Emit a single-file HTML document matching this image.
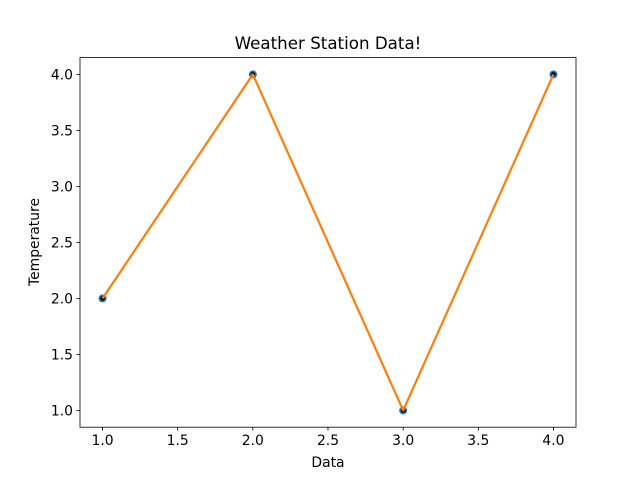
<!DOCTYPE html>
<html><head><meta charset="utf-8"><style>body{margin:0;background:#fff}svg{display:block;font-family:"DejaVu Sans","Liberation Sans",sans-serif}</style></head>
<body>
<svg id="chart" width="640" height="480">
<rect width="640" height="480" fill="#fff"/>
<text x="328" y="49" font-size="16.7" text-anchor="middle">Weather Station Data!</text>
<g id="plot"></g>
<rect x="80" y="57.6" width="496" height="369.6" fill="none" stroke="#000" stroke-width="0.8"/>
<text x="328" y="467" font-size="13.9" text-anchor="middle">Data</text>
<text x="0" y="0" font-size="13.9" text-anchor="middle" transform="translate(39,242) rotate(-90)">Temperature</text>
</svg>
<script>
const xs=[1,2,3,4];
const temps=[2,4,1,4];
const xTicks=[1.0,1.5,2.0,2.5,3.0,3.5,4.0];
const yTicks=[1.0,1.5,2.0,2.5,3.0,3.5,4.0];
const L=80,R=576,T=57.6,B=427.2;
const xmin=0.85,xmax=4.15,ymin=0.85,ymax=4.15;
const sx=v=>L+(v-xmin)/(xmax-xmin)*(R-L);
const sy=v=>B-(v-ymin)/(ymax-ymin)*(B-T);
const NS='http://www.w3.org/2000/svg';
const g=document.getElementById('plot');
function mk(t,a){const e=document.createElementNS(NS,t);for(const k in a)e.setAttribute(k,a[k]);g.appendChild(e);return e;}
xTicks.forEach(v=>{
 const l=mk('line',{x1:sx(v),x2:sx(v),y1:B,y2:B+3.5,stroke:'#000','stroke-width':0.8});
 
 
 const t=mk('text',{x:sx(v),y:B+18,'font-size':13.9,'text-anchor':'middle'});
 t.textContent=v.toFixed(1);
 
 
});
yTicks.forEach(v=>{
 const l=mk('line',{x1:L-3.5,x2:L,y1:sy(v),y2:sy(v),stroke:'#000','stroke-width':0.8});
 
 
 const t=mk('text',{x:L-7,y:sy(v)+5,'font-size':13.9,'text-anchor':'end'});
 t.textContent=v.toFixed(1);
 
 
});
xs.forEach((x,i)=>{
 const c=mk('circle',{cx:sx(x),cy:sy(temps[i]),r:4,fill:'#1f77b4'});
 
 
 const d=mk('circle',{cx:sx(x),cy:sy(temps[i]),r:2.3,fill:'#000'});
 
 
});
const p=mk('polyline',{points:xs.map((x,i)=>sx(x)+','+sy(temps[i])).join(' '),fill:'none',stroke:'#ff7f0e','stroke-width':2.2,'stroke-linejoin':'round'});


</script>
</body></html>
